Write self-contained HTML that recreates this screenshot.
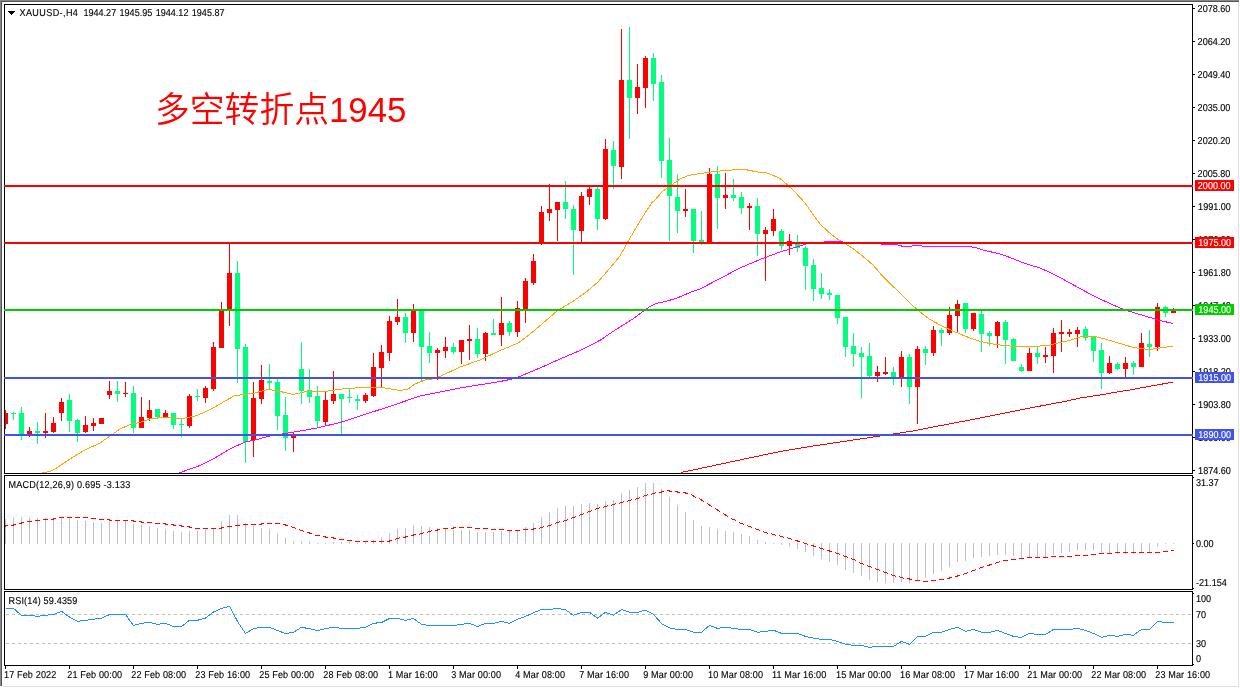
<!DOCTYPE html>
<html lang="zh"><head><meta charset="utf-8"><title>XAUUSD H4</title>
<style>html,body{margin:0;padding:0;background:#fff;overflow:hidden}svg{display:block}text{font-family:"Liberation Sans","Noto Sans CJK SC",sans-serif;font-size:10px;fill:#000;text-rendering:geometricPrecision;stroke:#000;stroke-width:0.12px}.w{fill:#fff;stroke:#fff}.t{font-family:"Liberation Sans","Noto Sans CJK SC",sans-serif;font-size:34.8px;fill:#FF0000;font-weight:350;stroke:none;text-rendering:auto}</style></head><body>
<svg width="1240" height="688" viewBox="0 0 1240 688">
<rect width="1240" height="688" fill="#fff"/>
<g shape-rendering="crispEdges">
<rect x="0" y="0" width="1239" height="1" fill="#888888"/>
<rect x="0" y="1" width="1239" height="1" fill="#545454"/>
<rect x="0" y="0" width="1" height="686" fill="#888888"/>
<rect x="1" y="1" width="1" height="685" fill="#545454"/>
<rect x="2" y="686" width="1237" height="1" fill="#e2e2e2"/>
<rect x="1238" y="2" width="1" height="685" fill="#e2e2e2"/>
<rect x="4" y="4" width="1189" height="1" fill="#000"/>
<rect x="4" y="473" width="1189" height="1" fill="#000"/>
<rect x="4" y="4" width="1" height="470" fill="#000"/>
<rect x="1192" y="4" width="1" height="470" fill="#000"/>
<rect x="4" y="475" width="1189" height="1" fill="#000"/>
<rect x="4" y="589" width="1189" height="1" fill="#000"/>
<rect x="4" y="475" width="1" height="115" fill="#000"/>
<rect x="1192" y="475" width="1" height="115" fill="#000"/>
<rect x="4" y="591" width="1189" height="1" fill="#000"/>
<rect x="4" y="665" width="1189" height="1" fill="#000"/>
<rect x="4" y="591" width="1" height="75" fill="#000"/>
<rect x="1192" y="591" width="1" height="75" fill="#000"/>
</g>
<clipPath id="c1"><rect x="5" y="5" width="1187" height="468"/></clipPath>
<clipPath id="c2"><rect x="5" y="476" width="1187" height="113"/></clipPath>
<clipPath id="c3"><rect x="5" y="592" width="1187" height="73"/></clipPath>
<g clip-path="url(#c1)" shape-rendering="crispEdges">
<rect x="5" y="410" width="1" height="19" fill="#FF0000"/>
<rect x="3" y="413" width="5" height="11" fill="#FF0000"/>
<rect x="13" y="412" width="1" height="8" fill="#00FF7F"/>
<rect x="11" y="413" width="5" height="1" fill="#00FF7F"/>
<rect x="21" y="407" width="1" height="33" fill="#00FF7F"/>
<rect x="19" y="413" width="5" height="21" fill="#00FF7F"/>
<rect x="29" y="427" width="1" height="10" fill="#FF0000"/>
<rect x="27" y="431" width="5" height="3" fill="#FF0000"/>
<rect x="37" y="422" width="1" height="22" fill="#00FF7F"/>
<rect x="35" y="431" width="5" height="2" fill="#00FF7F"/>
<rect x="45" y="413" width="1" height="25" fill="#FF0000"/>
<rect x="43" y="431" width="5" height="2" fill="#FF0000"/>
<rect x="53" y="417" width="1" height="16" fill="#FF0000"/>
<rect x="51" y="423" width="5" height="9" fill="#FF0000"/>
<rect x="61" y="398" width="1" height="23" fill="#FF0000"/>
<rect x="59" y="402" width="5" height="11" fill="#FF0000"/>
<rect x="69" y="394" width="1" height="38" fill="#00FF7F"/>
<rect x="67" y="400" width="5" height="21" fill="#00FF7F"/>
<rect x="77" y="419" width="1" height="23" fill="#00FF7F"/>
<rect x="75" y="420" width="5" height="13" fill="#00FF7F"/>
<rect x="85" y="416" width="1" height="17" fill="#FF0000"/>
<rect x="83" y="425" width="5" height="7" fill="#FF0000"/>
<rect x="93" y="418" width="1" height="13" fill="#FF0000"/>
<rect x="91" y="423" width="5" height="3" fill="#FF0000"/>
<rect x="99" y="418" width="5" height="6" fill="#FF0000"/>
<rect x="109" y="381" width="1" height="18" fill="#FF0000"/>
<rect x="107" y="391" width="5" height="4" fill="#FF0000"/>
<rect x="117" y="381" width="1" height="21" fill="#00FF7F"/>
<rect x="115" y="391" width="5" height="3" fill="#00FF7F"/>
<rect x="125" y="382" width="1" height="15" fill="#FF0000"/>
<rect x="123" y="393" width="5" height="1" fill="#FF0000"/>
<rect x="133" y="386" width="1" height="47" fill="#00FF7F"/>
<rect x="131" y="393" width="5" height="35" fill="#00FF7F"/>
<rect x="141" y="397" width="1" height="31" fill="#FF0000"/>
<rect x="139" y="417" width="5" height="11" fill="#FF0000"/>
<rect x="149" y="400" width="1" height="21" fill="#FF0000"/>
<rect x="147" y="410" width="5" height="8" fill="#FF0000"/>
<rect x="157" y="409" width="1" height="10" fill="#00FF7F"/>
<rect x="155" y="409" width="5" height="8" fill="#00FF7F"/>
<rect x="165" y="410" width="1" height="7" fill="#FF0000"/>
<rect x="163" y="413" width="5" height="4" fill="#FF0000"/>
<rect x="173" y="413" width="1" height="16" fill="#00FF7F"/>
<rect x="171" y="413" width="5" height="12" fill="#00FF7F"/>
<rect x="181" y="419" width="1" height="18" fill="#00FF7F"/>
<rect x="179" y="424" width="5" height="1" fill="#00FF7F"/>
<rect x="189" y="394" width="1" height="34" fill="#FF0000"/>
<rect x="187" y="396" width="5" height="30" fill="#FF0000"/>
<rect x="197" y="389" width="1" height="12" fill="#00FF7F"/>
<rect x="195" y="396" width="5" height="1" fill="#00FF7F"/>
<rect x="205" y="386" width="1" height="17" fill="#FF0000"/>
<rect x="203" y="388" width="5" height="10" fill="#FF0000"/>
<rect x="213" y="342" width="1" height="49" fill="#FF0000"/>
<rect x="211" y="347" width="5" height="42" fill="#FF0000"/>
<rect x="221" y="302" width="1" height="46" fill="#FF0000"/>
<rect x="219" y="311" width="5" height="37" fill="#FF0000"/>
<rect x="229" y="244" width="1" height="82" fill="#FF0000"/>
<rect x="227" y="273" width="5" height="36" fill="#FF0000"/>
<rect x="237" y="261" width="1" height="122" fill="#00FF7F"/>
<rect x="235" y="273" width="5" height="76" fill="#00FF7F"/>
<rect x="245" y="344" width="1" height="119" fill="#00FF7F"/>
<rect x="243" y="347" width="5" height="95" fill="#00FF7F"/>
<rect x="253" y="382" width="1" height="75" fill="#FF0000"/>
<rect x="251" y="398" width="5" height="42" fill="#FF0000"/>
<rect x="261" y="365" width="1" height="39" fill="#FF0000"/>
<rect x="259" y="380" width="5" height="19" fill="#FF0000"/>
<rect x="269" y="364" width="1" height="25" fill="#00FF7F"/>
<rect x="267" y="381" width="5" height="2" fill="#00FF7F"/>
<rect x="277" y="379" width="1" height="51" fill="#00FF7F"/>
<rect x="275" y="382" width="5" height="34" fill="#00FF7F"/>
<rect x="285" y="397" width="1" height="54" fill="#00FF7F"/>
<rect x="283" y="415" width="5" height="23" fill="#00FF7F"/>
<rect x="293" y="433" width="1" height="19" fill="#FF0000"/>
<rect x="291" y="436" width="5" height="2" fill="#FF0000"/>
<rect x="301" y="342" width="1" height="62" fill="#00FF7F"/>
<rect x="299" y="369" width="5" height="22" fill="#00FF7F"/>
<rect x="309" y="369" width="1" height="34" fill="#00FF7F"/>
<rect x="307" y="390" width="5" height="7" fill="#00FF7F"/>
<rect x="317" y="386" width="1" height="42" fill="#00FF7F"/>
<rect x="315" y="396" width="5" height="25" fill="#00FF7F"/>
<rect x="325" y="392" width="1" height="33" fill="#FF0000"/>
<rect x="323" y="400" width="5" height="22" fill="#FF0000"/>
<rect x="333" y="371" width="1" height="33" fill="#FF0000"/>
<rect x="331" y="394" width="5" height="7" fill="#FF0000"/>
<rect x="341" y="394" width="1" height="40" fill="#00FF7F"/>
<rect x="339" y="394" width="5" height="5" fill="#00FF7F"/>
<rect x="349" y="389" width="1" height="14" fill="#00FF7F"/>
<rect x="347" y="397" width="5" height="1" fill="#00FF7F"/>
<rect x="357" y="395" width="1" height="15" fill="#00FF7F"/>
<rect x="355" y="399" width="5" height="2" fill="#00FF7F"/>
<rect x="365" y="393" width="1" height="10" fill="#FF0000"/>
<rect x="363" y="395" width="5" height="6" fill="#FF0000"/>
<rect x="373" y="353" width="1" height="44" fill="#FF0000"/>
<rect x="371" y="367" width="5" height="29" fill="#FF0000"/>
<rect x="381" y="345" width="1" height="42" fill="#FF0000"/>
<rect x="379" y="352" width="5" height="16" fill="#FF0000"/>
<rect x="389" y="316" width="1" height="45" fill="#FF0000"/>
<rect x="387" y="321" width="5" height="32" fill="#FF0000"/>
<rect x="397" y="299" width="1" height="26" fill="#FF0000"/>
<rect x="395" y="317" width="5" height="5" fill="#FF0000"/>
<rect x="405" y="313" width="1" height="30" fill="#00FF7F"/>
<rect x="403" y="317" width="5" height="16" fill="#00FF7F"/>
<rect x="413" y="304" width="1" height="38" fill="#FF0000"/>
<rect x="411" y="311" width="5" height="22" fill="#FF0000"/>
<rect x="421" y="311" width="1" height="71" fill="#00FF7F"/>
<rect x="419" y="311" width="5" height="36" fill="#00FF7F"/>
<rect x="429" y="332" width="1" height="31" fill="#00FF7F"/>
<rect x="427" y="346" width="5" height="7" fill="#00FF7F"/>
<rect x="437" y="348" width="1" height="32" fill="#FF0000"/>
<rect x="435" y="350" width="5" height="3" fill="#FF0000"/>
<rect x="445" y="337" width="1" height="21" fill="#FF0000"/>
<rect x="443" y="347" width="5" height="4" fill="#FF0000"/>
<rect x="453" y="343" width="1" height="11" fill="#00FF7F"/>
<rect x="451" y="347" width="5" height="5" fill="#00FF7F"/>
<rect x="461" y="340" width="1" height="24" fill="#FF0000"/>
<rect x="459" y="340" width="5" height="12" fill="#FF0000"/>
<rect x="469" y="325" width="1" height="35" fill="#FF0000"/>
<rect x="467" y="339" width="5" height="2" fill="#FF0000"/>
<rect x="477" y="328" width="1" height="30" fill="#00FF7F"/>
<rect x="475" y="339" width="5" height="15" fill="#00FF7F"/>
<rect x="485" y="332" width="1" height="29" fill="#FF0000"/>
<rect x="483" y="333" width="5" height="21" fill="#FF0000"/>
<rect x="493" y="319" width="1" height="16" fill="#00FF7F"/>
<rect x="491" y="333" width="5" height="2" fill="#00FF7F"/>
<rect x="501" y="297" width="1" height="49" fill="#FF0000"/>
<rect x="499" y="323" width="5" height="12" fill="#FF0000"/>
<rect x="509" y="321" width="1" height="15" fill="#00FF7F"/>
<rect x="507" y="323" width="5" height="9" fill="#00FF7F"/>
<rect x="517" y="301" width="1" height="36" fill="#FF0000"/>
<rect x="515" y="308" width="5" height="24" fill="#FF0000"/>
<rect x="525" y="278" width="1" height="45" fill="#FF0000"/>
<rect x="523" y="281" width="5" height="29" fill="#FF0000"/>
<rect x="533" y="254" width="1" height="31" fill="#FF0000"/>
<rect x="531" y="261" width="5" height="22" fill="#FF0000"/>
<rect x="541" y="206" width="1" height="39" fill="#FF0000"/>
<rect x="539" y="212" width="5" height="31" fill="#FF0000"/>
<rect x="549" y="184" width="1" height="37" fill="#FF0000"/>
<rect x="547" y="209" width="5" height="4" fill="#FF0000"/>
<rect x="557" y="202" width="1" height="39" fill="#FF0000"/>
<rect x="555" y="202" width="5" height="8" fill="#FF0000"/>
<rect x="565" y="181" width="1" height="38" fill="#00FF7F"/>
<rect x="563" y="202" width="5" height="7" fill="#00FF7F"/>
<rect x="573" y="205" width="1" height="70" fill="#00FF7F"/>
<rect x="571" y="209" width="5" height="21" fill="#00FF7F"/>
<rect x="581" y="192" width="1" height="50" fill="#FF0000"/>
<rect x="579" y="196" width="5" height="35" fill="#FF0000"/>
<rect x="589" y="187" width="1" height="18" fill="#FF0000"/>
<rect x="587" y="189" width="5" height="8" fill="#FF0000"/>
<rect x="597" y="187" width="1" height="43" fill="#00FF7F"/>
<rect x="595" y="189" width="5" height="30" fill="#00FF7F"/>
<rect x="605" y="139" width="1" height="81" fill="#FF0000"/>
<rect x="603" y="149" width="5" height="70" fill="#FF0000"/>
<rect x="613" y="141" width="1" height="48" fill="#00FF7F"/>
<rect x="611" y="150" width="5" height="16" fill="#00FF7F"/>
<rect x="621" y="29" width="1" height="150" fill="#FF0000"/>
<rect x="619" y="80" width="5" height="87" fill="#FF0000"/>
<rect x="629" y="27" width="1" height="112" fill="#00FF7F"/>
<rect x="627" y="80" width="5" height="18" fill="#00FF7F"/>
<rect x="637" y="64" width="1" height="50" fill="#FF0000"/>
<rect x="635" y="87" width="5" height="11" fill="#FF0000"/>
<rect x="645" y="56" width="1" height="52" fill="#FF0000"/>
<rect x="643" y="58" width="5" height="30" fill="#FF0000"/>
<rect x="653" y="53" width="1" height="48" fill="#00FF7F"/>
<rect x="651" y="58" width="5" height="26" fill="#00FF7F"/>
<rect x="661" y="75" width="1" height="103" fill="#00FF7F"/>
<rect x="659" y="82" width="5" height="79" fill="#00FF7F"/>
<rect x="669" y="138" width="1" height="103" fill="#00FF7F"/>
<rect x="667" y="160" width="5" height="36" fill="#00FF7F"/>
<rect x="677" y="174" width="1" height="59" fill="#00FF7F"/>
<rect x="675" y="197" width="5" height="14" fill="#00FF7F"/>
<rect x="685" y="189" width="1" height="28" fill="#FF0000"/>
<rect x="683" y="209" width="5" height="2" fill="#FF0000"/>
<rect x="693" y="209" width="1" height="44" fill="#00FF7F"/>
<rect x="691" y="209" width="5" height="32" fill="#00FF7F"/>
<rect x="701" y="211" width="1" height="34" fill="#00FF7F"/>
<rect x="699" y="240" width="5" height="2" fill="#00FF7F"/>
<rect x="709" y="168" width="1" height="75" fill="#FF0000"/>
<rect x="707" y="174" width="5" height="69" fill="#FF0000"/>
<rect x="717" y="166" width="1" height="63" fill="#00FF7F"/>
<rect x="715" y="174" width="5" height="24" fill="#00FF7F"/>
<rect x="725" y="173" width="1" height="36" fill="#FF0000"/>
<rect x="723" y="195" width="5" height="3" fill="#FF0000"/>
<rect x="733" y="179" width="1" height="22" fill="#00FF7F"/>
<rect x="731" y="195" width="5" height="3" fill="#00FF7F"/>
<rect x="741" y="192" width="1" height="22" fill="#00FF7F"/>
<rect x="739" y="197" width="5" height="11" fill="#00FF7F"/>
<rect x="749" y="203" width="1" height="27" fill="#FF0000"/>
<rect x="747" y="206" width="5" height="2" fill="#FF0000"/>
<rect x="757" y="198" width="1" height="58" fill="#00FF7F"/>
<rect x="755" y="206" width="5" height="28" fill="#00FF7F"/>
<rect x="765" y="227" width="1" height="54" fill="#FF0000"/>
<rect x="763" y="230" width="5" height="4" fill="#FF0000"/>
<rect x="773" y="209" width="1" height="27" fill="#FF0000"/>
<rect x="771" y="219" width="5" height="12" fill="#FF0000"/>
<rect x="781" y="229" width="1" height="21" fill="#00FF7F"/>
<rect x="779" y="231" width="5" height="15" fill="#00FF7F"/>
<rect x="789" y="234" width="1" height="21" fill="#FF0000"/>
<rect x="787" y="241" width="5" height="5" fill="#FF0000"/>
<rect x="797" y="235" width="1" height="17" fill="#00FF7F"/>
<rect x="795" y="242" width="5" height="6" fill="#00FF7F"/>
<rect x="805" y="246" width="1" height="44" fill="#00FF7F"/>
<rect x="803" y="248" width="5" height="18" fill="#00FF7F"/>
<rect x="813" y="259" width="1" height="42" fill="#00FF7F"/>
<rect x="811" y="265" width="5" height="24" fill="#00FF7F"/>
<rect x="821" y="273" width="1" height="26" fill="#00FF7F"/>
<rect x="819" y="288" width="5" height="6" fill="#00FF7F"/>
<rect x="829" y="289" width="1" height="11" fill="#00FF7F"/>
<rect x="827" y="293" width="5" height="2" fill="#00FF7F"/>
<rect x="837" y="295" width="1" height="29" fill="#00FF7F"/>
<rect x="835" y="295" width="5" height="23" fill="#00FF7F"/>
<rect x="845" y="317" width="1" height="40" fill="#00FF7F"/>
<rect x="843" y="317" width="5" height="30" fill="#00FF7F"/>
<rect x="853" y="333" width="1" height="34" fill="#00FF7F"/>
<rect x="851" y="346" width="5" height="8" fill="#00FF7F"/>
<rect x="861" y="347" width="1" height="51" fill="#00FF7F"/>
<rect x="859" y="353" width="5" height="4" fill="#00FF7F"/>
<rect x="869" y="343" width="1" height="34" fill="#00FF7F"/>
<rect x="867" y="356" width="5" height="20" fill="#00FF7F"/>
<rect x="877" y="366" width="1" height="16" fill="#FF0000"/>
<rect x="875" y="372" width="5" height="4" fill="#FF0000"/>
<rect x="885" y="357" width="1" height="18" fill="#FF0000"/>
<rect x="883" y="372" width="5" height="2" fill="#FF0000"/>
<rect x="893" y="367" width="1" height="18" fill="#00FF7F"/>
<rect x="891" y="372" width="5" height="5" fill="#00FF7F"/>
<rect x="901" y="351" width="1" height="36" fill="#FF0000"/>
<rect x="899" y="357" width="5" height="20" fill="#FF0000"/>
<rect x="909" y="354" width="1" height="50" fill="#00FF7F"/>
<rect x="907" y="357" width="5" height="30" fill="#00FF7F"/>
<rect x="917" y="346" width="1" height="78" fill="#FF0000"/>
<rect x="915" y="349" width="5" height="38" fill="#FF0000"/>
<rect x="925" y="346" width="1" height="19" fill="#00FF7F"/>
<rect x="923" y="349" width="5" height="4" fill="#00FF7F"/>
<rect x="933" y="326" width="1" height="30" fill="#FF0000"/>
<rect x="931" y="330" width="5" height="23" fill="#FF0000"/>
<rect x="941" y="328" width="1" height="18" fill="#00FF7F"/>
<rect x="939" y="330" width="5" height="3" fill="#00FF7F"/>
<rect x="949" y="307" width="1" height="28" fill="#FF0000"/>
<rect x="947" y="315" width="5" height="18" fill="#FF0000"/>
<rect x="957" y="300" width="1" height="32" fill="#FF0000"/>
<rect x="955" y="304" width="5" height="12" fill="#FF0000"/>
<rect x="965" y="303" width="1" height="30" fill="#00FF7F"/>
<rect x="963" y="303" width="5" height="26" fill="#00FF7F"/>
<rect x="973" y="313" width="1" height="18" fill="#FF0000"/>
<rect x="971" y="313" width="5" height="16" fill="#FF0000"/>
<rect x="981" y="311" width="1" height="41" fill="#00FF7F"/>
<rect x="979" y="314" width="5" height="20" fill="#00FF7F"/>
<rect x="989" y="331" width="1" height="15" fill="#00FF7F"/>
<rect x="987" y="333" width="5" height="3" fill="#00FF7F"/>
<rect x="997" y="321" width="1" height="27" fill="#FF0000"/>
<rect x="995" y="322" width="5" height="14" fill="#FF0000"/>
<rect x="1005" y="320" width="1" height="44" fill="#00FF7F"/>
<rect x="1003" y="322" width="5" height="18" fill="#00FF7F"/>
<rect x="1013" y="338" width="1" height="23" fill="#00FF7F"/>
<rect x="1011" y="339" width="5" height="22" fill="#00FF7F"/>
<rect x="1021" y="364" width="1" height="8" fill="#00FF7F"/>
<rect x="1019" y="367" width="5" height="4" fill="#00FF7F"/>
<rect x="1029" y="348" width="1" height="23" fill="#FF0000"/>
<rect x="1027" y="353" width="5" height="18" fill="#FF0000"/>
<rect x="1037" y="347" width="1" height="17" fill="#00FF7F"/>
<rect x="1035" y="353" width="5" height="4" fill="#00FF7F"/>
<rect x="1045" y="347" width="1" height="16" fill="#FF0000"/>
<rect x="1043" y="355" width="5" height="2" fill="#FF0000"/>
<rect x="1053" y="328" width="1" height="45" fill="#FF0000"/>
<rect x="1051" y="333" width="5" height="23" fill="#FF0000"/>
<rect x="1061" y="320" width="1" height="32" fill="#FF0000"/>
<rect x="1059" y="332" width="5" height="2" fill="#FF0000"/>
<rect x="1069" y="329" width="1" height="8" fill="#FF0000"/>
<rect x="1067" y="332" width="5" height="2" fill="#FF0000"/>
<rect x="1077" y="327" width="1" height="20" fill="#FF0000"/>
<rect x="1075" y="330" width="5" height="4" fill="#FF0000"/>
<rect x="1085" y="326" width="1" height="15" fill="#00FF7F"/>
<rect x="1083" y="329" width="5" height="9" fill="#00FF7F"/>
<rect x="1093" y="337" width="1" height="25" fill="#00FF7F"/>
<rect x="1091" y="337" width="5" height="14" fill="#00FF7F"/>
<rect x="1101" y="343" width="1" height="46" fill="#00FF7F"/>
<rect x="1099" y="350" width="5" height="23" fill="#00FF7F"/>
<rect x="1109" y="356" width="1" height="18" fill="#FF0000"/>
<rect x="1107" y="363" width="5" height="10" fill="#FF0000"/>
<rect x="1117" y="362" width="1" height="8" fill="#00FF7F"/>
<rect x="1115" y="364" width="5" height="5" fill="#00FF7F"/>
<rect x="1125" y="357" width="1" height="20" fill="#FF0000"/>
<rect x="1123" y="363" width="5" height="6" fill="#FF0000"/>
<rect x="1133" y="361" width="1" height="14" fill="#00FF7F"/>
<rect x="1131" y="363" width="5" height="4" fill="#00FF7F"/>
<rect x="1141" y="333" width="1" height="34" fill="#FF0000"/>
<rect x="1139" y="343" width="5" height="24" fill="#FF0000"/>
<rect x="1149" y="330" width="1" height="27" fill="#00FF7F"/>
<rect x="1147" y="344" width="5" height="3" fill="#00FF7F"/>
<rect x="1157" y="303" width="1" height="48" fill="#FF0000"/>
<rect x="1155" y="307" width="5" height="40" fill="#FF0000"/>
<rect x="1165" y="306" width="1" height="11" fill="#00FF7F"/>
<rect x="1163" y="307" width="5" height="6" fill="#00FF7F"/>
<rect x="1173" y="308" width="1" height="5" fill="#FF0000"/>
<rect x="1171" y="311" width="5" height="2" fill="#FF0000"/>
</g>
<polyline clip-path="url(#c1)" points="42,473 50,471.5 55,469 70,459 85,450 100,443 110,436 120,429 130,424.5 140,422.5 150,419 160,417.5 170,417.5 178,418.5 183,418.5 190,417 197,415.5 205,412 215,407 225,401 235,395.5 245,394.5 255,393 262,391 268,389.5 275,390.5 285,392.5 293,394.5 300,393 308,391 318,392 325,391.5 335,390 345,388.5 355,388 370,387.5 385,388 400,390.5 408,389 415,384 425,380 432,379 440,376.5 460,367 480,360 500,350.5 510,346.5 518,343 525,338 535,330 546,320.5 557,311 572,302 585,293 598,282 610,268 620,256 628,241.5 640,221 652,202.3 655,200 662,192 670,186 680,179 688,175.6 700,173.5 711,172 725,170.5 740,169.5 745,169.5 755,171.5 760,172.3 765,172.5 770,174 780,178.5 787,184.5 795,192 805,203 812,213 820,224 828,231.5 836,238 845,243.5 855,250 866,259 873,265 882,275.5 890,283.5 900,293 912,305 920,312 930,319.5 940,325 950,329.7 960,334 970,338 980,341.5 990,343.5 1000,345 1010,346 1020,346.5 1030,346.5 1040,346 1050,345 1060,342.5 1070,340.5 1075,338.5 1082,336.5 1095,336.5 1105,339 1115,342 1125,345 1132,347 1140,348.5 1150,349.5 1160,348 1170,346.5 1173,346" fill="none" stroke="#FFA500" stroke-width="1" shape-rendering="crispEdges" />
<polyline clip-path="url(#c1)" points="179,473 200,465.5 215,458 230,449 245,442 253,440.5 270,436 285,433.5 300,431 317,428 340,422.5 360,416 391,406 420,396 460,388 500,381.5 510,379.5 520,376.3 540,368 560,359 580,350.5 600,340.3 616,329.5 632,319.5 645,310 650,306.5 656,303.5 665,301.5 676,298.5 690,292.5 700,289 720,278.5 740,268 760,259.5 780,252 790,249 800,246 808,243.5 824,242.5 825,241.5 842,241.5 843,242.5 870,243.5 881,243.5 882,244.5 897,244.5 899,245.5 904,246.5 911,246.5 913,245.5 921,245.5 923,246.5 969,246.5 975,247.5 985,250.5 1000,254 1010,257.5 1025,263.5 1040,268 1050,272.5 1060,277.5 1070,283 1080,288.5 1090,294 1100,299 1110,303.5 1120,308 1130,311.5 1140,314.5 1150,317.5 1160,320.5 1173,323.5" fill="none" stroke="#FF00FF" stroke-width="1" shape-rendering="crispEdges" />
<polyline clip-path="url(#c1)" points="681,472.5 700,468.5 735,461 780,451.5 810,446.5 850,440.5 880,436 900,433 913,431 940,425.7 970,420 1000,414 1030,408 1067,401 1080,398 1100,395 1120,391.5 1130,390 1140,388 1160,384.5 1173,382" fill="none" stroke="#FF0000" stroke-width="1" shape-rendering="crispEdges" />
<g shape-rendering="crispEdges">
<rect x="4" y="185" width="1189" height="2" fill="#FF0000"/>
<rect x="4" y="242" width="1189" height="2" fill="#FF0000"/>
<rect x="4" y="309" width="1189" height="2" fill="#00CC00"/>
<rect x="4" y="377" width="1189" height="2" fill="#4254E8"/>
<rect x="4" y="434" width="1189" height="2" fill="#4254E8"/>
<rect x="1193" y="8" width="2" height="1" fill="#000"/>
<rect x="1193" y="41" width="2" height="1" fill="#000"/>
<rect x="1193" y="74" width="2" height="1" fill="#000"/>
<rect x="1193" y="107" width="2" height="1" fill="#000"/>
<rect x="1193" y="140" width="2" height="1" fill="#000"/>
<rect x="1193" y="173" width="2" height="1" fill="#000"/>
<rect x="1193" y="206" width="2" height="1" fill="#000"/>
<rect x="1193" y="239" width="2" height="1" fill="#000"/>
<rect x="1193" y="272" width="2" height="1" fill="#000"/>
<rect x="1193" y="305" width="2" height="1" fill="#000"/>
<rect x="1193" y="338" width="2" height="1" fill="#000"/>
<rect x="1193" y="371" width="2" height="1" fill="#000"/>
<rect x="1193" y="404" width="2" height="1" fill="#000"/>
<rect x="1193" y="437" width="2" height="1" fill="#000"/>
<rect x="1193" y="470" width="2" height="1" fill="#000"/>
</g>
<text transform="translate(1197.6 12) scale(0.907 1)">2078.60</text>
<text transform="translate(1197.6 45) scale(0.907 1)">2064.20</text>
<text transform="translate(1197.6 78) scale(0.907 1)">2049.40</text>
<text transform="translate(1197.6 111) scale(0.907 1)">2035.00</text>
<text transform="translate(1197.6 144) scale(0.907 1)">2020.20</text>
<text transform="translate(1197.6 177) scale(0.907 1)">2005.80</text>
<text transform="translate(1198.1 210) scale(0.907 1)">1991.00</text>
<text transform="translate(1198.1 243) scale(0.907 1)">1976.20</text>
<text transform="translate(1198.1 276) scale(0.907 1)">1961.80</text>
<text transform="translate(1198.1 309) scale(0.907 1)">1947.40</text>
<text transform="translate(1198.1 342) scale(0.907 1)">1933.00</text>
<text transform="translate(1198.1 375) scale(0.907 1)">1918.20</text>
<text transform="translate(1198.1 408) scale(0.907 1)">1903.80</text>
<text transform="translate(1198.1 441) scale(0.907 1)">1889.00</text>
<text transform="translate(1198.1 474) scale(0.907 1)">1874.60</text>
<g shape-rendering="crispEdges">
<rect x="1195" y="180" width="39" height="11" fill="#FF0000"/>
<rect x="1195" y="237" width="39" height="11" fill="#FF0000"/>
<rect x="1195" y="304" width="39" height="11" fill="#00CC00"/>
<rect x="1195" y="372" width="39" height="11" fill="#4254E8"/>
<rect x="1195" y="429" width="39" height="11" fill="#4254E8"/>
</g>
<text class="w" transform="translate(1197.8 189) scale(0.907 1)">2000.00</text>
<text class="w" transform="translate(1198.3 246) scale(0.907 1)">1975.00</text>
<text class="w" transform="translate(1198.3 313) scale(0.907 1)">1945.00</text>
<text class="w" transform="translate(1198.3 381) scale(0.907 1)">1915.00</text>
<text class="w" transform="translate(1198.3 438) scale(0.907 1)">1890.00</text>
<path d="M8 11h7l-3.5 4z" fill="#000" shape-rendering="crispEdges"/>
<text letter-spacing="0.42" transform="translate(19.5 16) scale(0.907 1)">XAUUSD-,H4</text>
<text word-spacing="0.9" transform="translate(83.4 16) scale(0.907 1)">1944.27 1945.95 1944.12 1945.87</text>
<text class="t" x="155" y="122">多空转折点1945</text>
<g clip-path="url(#c2)" shape-rendering="crispEdges">
<rect x="5" y="519" width="1" height="25" fill="#C0C0C0"/>
<rect x="13" y="517" width="1" height="27" fill="#C0C0C0"/>
<rect x="21" y="517" width="1" height="27" fill="#C0C0C0"/>
<rect x="29" y="517" width="1" height="27" fill="#C0C0C0"/>
<rect x="37" y="518" width="1" height="26" fill="#C0C0C0"/>
<rect x="45" y="518" width="1" height="26" fill="#C0C0C0"/>
<rect x="53" y="518" width="1" height="26" fill="#C0C0C0"/>
<rect x="61" y="518" width="1" height="26" fill="#C0C0C0"/>
<rect x="69" y="518" width="1" height="26" fill="#C0C0C0"/>
<rect x="77" y="520" width="1" height="24" fill="#C0C0C0"/>
<rect x="85" y="521" width="1" height="23" fill="#C0C0C0"/>
<rect x="93" y="522" width="1" height="22" fill="#C0C0C0"/>
<rect x="101" y="523" width="1" height="21" fill="#C0C0C0"/>
<rect x="109" y="522" width="1" height="22" fill="#C0C0C0"/>
<rect x="117" y="521" width="1" height="23" fill="#C0C0C0"/>
<rect x="125" y="521" width="1" height="23" fill="#C0C0C0"/>
<rect x="133" y="524" width="1" height="20" fill="#C0C0C0"/>
<rect x="141" y="525" width="1" height="19" fill="#C0C0C0"/>
<rect x="149" y="526" width="1" height="18" fill="#C0C0C0"/>
<rect x="157" y="528" width="1" height="16" fill="#C0C0C0"/>
<rect x="165" y="529" width="1" height="15" fill="#C0C0C0"/>
<rect x="173" y="531" width="1" height="13" fill="#C0C0C0"/>
<rect x="181" y="532" width="1" height="12" fill="#C0C0C0"/>
<rect x="189" y="531" width="1" height="13" fill="#C0C0C0"/>
<rect x="197" y="531" width="1" height="13" fill="#C0C0C0"/>
<rect x="205" y="530" width="1" height="14" fill="#C0C0C0"/>
<rect x="213" y="528" width="1" height="16" fill="#C0C0C0"/>
<rect x="221" y="521" width="1" height="23" fill="#C0C0C0"/>
<rect x="229" y="515" width="1" height="29" fill="#C0C0C0"/>
<rect x="237" y="515" width="1" height="29" fill="#C0C0C0"/>
<rect x="245" y="523" width="1" height="21" fill="#C0C0C0"/>
<rect x="253" y="526" width="1" height="18" fill="#C0C0C0"/>
<rect x="261" y="528" width="1" height="16" fill="#C0C0C0"/>
<rect x="269" y="529" width="1" height="15" fill="#C0C0C0"/>
<rect x="277" y="533" width="1" height="11" fill="#C0C0C0"/>
<rect x="285" y="538" width="1" height="6" fill="#C0C0C0"/>
<rect x="293" y="541" width="1" height="3" fill="#C0C0C0"/>
<rect x="301" y="541" width="1" height="3" fill="#C0C0C0"/>
<rect x="309" y="541" width="1" height="3" fill="#C0C0C0"/>
<rect x="317" y="543" width="1" height="1" fill="#C0C0C0"/>
<rect x="325" y="543" width="1" height="1" fill="#C0C0C0"/>
<rect x="333" y="542" width="1" height="2" fill="#C0C0C0"/>
<rect x="341" y="542" width="1" height="2" fill="#C0C0C0"/>
<rect x="349" y="542" width="1" height="2" fill="#C0C0C0"/>
<rect x="357" y="543" width="1" height="1" fill="#C0C0C0"/>
<rect x="365" y="542" width="1" height="2" fill="#C0C0C0"/>
<rect x="373" y="540" width="1" height="4" fill="#C0C0C0"/>
<rect x="381" y="537" width="1" height="7" fill="#C0C0C0"/>
<rect x="389" y="533" width="1" height="11" fill="#C0C0C0"/>
<rect x="397" y="529" width="1" height="15" fill="#C0C0C0"/>
<rect x="405" y="528" width="1" height="16" fill="#C0C0C0"/>
<rect x="413" y="525" width="1" height="19" fill="#C0C0C0"/>
<rect x="421" y="526" width="1" height="18" fill="#C0C0C0"/>
<rect x="429" y="527" width="1" height="17" fill="#C0C0C0"/>
<rect x="437" y="528" width="1" height="16" fill="#C0C0C0"/>
<rect x="445" y="529" width="1" height="15" fill="#C0C0C0"/>
<rect x="453" y="530" width="1" height="14" fill="#C0C0C0"/>
<rect x="461" y="530" width="1" height="14" fill="#C0C0C0"/>
<rect x="469" y="530" width="1" height="14" fill="#C0C0C0"/>
<rect x="477" y="532" width="1" height="12" fill="#C0C0C0"/>
<rect x="485" y="532" width="1" height="12" fill="#C0C0C0"/>
<rect x="493" y="532" width="1" height="12" fill="#C0C0C0"/>
<rect x="501" y="531" width="1" height="13" fill="#C0C0C0"/>
<rect x="509" y="530" width="1" height="14" fill="#C0C0C0"/>
<rect x="517" y="530" width="1" height="14" fill="#C0C0C0"/>
<rect x="525" y="527" width="1" height="17" fill="#C0C0C0"/>
<rect x="533" y="523" width="1" height="21" fill="#C0C0C0"/>
<rect x="541" y="517" width="1" height="27" fill="#C0C0C0"/>
<rect x="549" y="512" width="1" height="32" fill="#C0C0C0"/>
<rect x="557" y="508" width="1" height="36" fill="#C0C0C0"/>
<rect x="565" y="506" width="1" height="38" fill="#C0C0C0"/>
<rect x="573" y="506" width="1" height="38" fill="#C0C0C0"/>
<rect x="581" y="504" width="1" height="40" fill="#C0C0C0"/>
<rect x="589" y="503" width="1" height="41" fill="#C0C0C0"/>
<rect x="597" y="504" width="1" height="40" fill="#C0C0C0"/>
<rect x="605" y="501" width="1" height="43" fill="#C0C0C0"/>
<rect x="613" y="500" width="1" height="44" fill="#C0C0C0"/>
<rect x="621" y="493" width="1" height="51" fill="#C0C0C0"/>
<rect x="629" y="490" width="1" height="54" fill="#C0C0C0"/>
<rect x="637" y="487" width="1" height="57" fill="#C0C0C0"/>
<rect x="645" y="483" width="1" height="61" fill="#C0C0C0"/>
<rect x="653" y="483" width="1" height="61" fill="#C0C0C0"/>
<rect x="661" y="489" width="1" height="55" fill="#C0C0C0"/>
<rect x="669" y="497" width="1" height="47" fill="#C0C0C0"/>
<rect x="677" y="505" width="1" height="39" fill="#C0C0C0"/>
<rect x="685" y="512" width="1" height="32" fill="#C0C0C0"/>
<rect x="693" y="520" width="1" height="24" fill="#C0C0C0"/>
<rect x="701" y="526" width="1" height="18" fill="#C0C0C0"/>
<rect x="709" y="527" width="1" height="17" fill="#C0C0C0"/>
<rect x="717" y="529" width="1" height="15" fill="#C0C0C0"/>
<rect x="725" y="531" width="1" height="13" fill="#C0C0C0"/>
<rect x="733" y="532" width="1" height="12" fill="#C0C0C0"/>
<rect x="741" y="534" width="1" height="10" fill="#C0C0C0"/>
<rect x="749" y="536" width="1" height="8" fill="#C0C0C0"/>
<rect x="757" y="540" width="1" height="4" fill="#C0C0C0"/>
<rect x="765" y="542" width="1" height="2" fill="#C0C0C0"/>
<rect x="773" y="543" width="1" height="1" fill="#C0C0C0"/>
<rect x="781" y="543" width="1" height="2" fill="#C0C0C0"/>
<rect x="789" y="543" width="1" height="4" fill="#C0C0C0"/>
<rect x="797" y="543" width="1" height="6" fill="#C0C0C0"/>
<rect x="805" y="543" width="1" height="9" fill="#C0C0C0"/>
<rect x="813" y="543" width="1" height="13" fill="#C0C0C0"/>
<rect x="821" y="543" width="1" height="16" fill="#C0C0C0"/>
<rect x="829" y="543" width="1" height="19" fill="#C0C0C0"/>
<rect x="837" y="543" width="1" height="22" fill="#C0C0C0"/>
<rect x="845" y="543" width="1" height="27" fill="#C0C0C0"/>
<rect x="853" y="543" width="1" height="30" fill="#C0C0C0"/>
<rect x="861" y="543" width="1" height="33" fill="#C0C0C0"/>
<rect x="869" y="543" width="1" height="37" fill="#C0C0C0"/>
<rect x="877" y="543" width="1" height="39" fill="#C0C0C0"/>
<rect x="885" y="543" width="1" height="40" fill="#C0C0C0"/>
<rect x="893" y="543" width="1" height="40" fill="#C0C0C0"/>
<rect x="901" y="543" width="1" height="39" fill="#C0C0C0"/>
<rect x="909" y="543" width="1" height="40" fill="#C0C0C0"/>
<rect x="917" y="543" width="1" height="38" fill="#C0C0C0"/>
<rect x="925" y="543" width="1" height="35" fill="#C0C0C0"/>
<rect x="933" y="543" width="1" height="31" fill="#C0C0C0"/>
<rect x="941" y="543" width="1" height="28" fill="#C0C0C0"/>
<rect x="949" y="543" width="1" height="24" fill="#C0C0C0"/>
<rect x="957" y="543" width="1" height="19" fill="#C0C0C0"/>
<rect x="965" y="543" width="1" height="18" fill="#C0C0C0"/>
<rect x="973" y="543" width="1" height="15" fill="#C0C0C0"/>
<rect x="981" y="543" width="1" height="14" fill="#C0C0C0"/>
<rect x="989" y="543" width="1" height="13" fill="#C0C0C0"/>
<rect x="997" y="543" width="1" height="12" fill="#C0C0C0"/>
<rect x="1005" y="543" width="1" height="12" fill="#C0C0C0"/>
<rect x="1013" y="543" width="1" height="13" fill="#C0C0C0"/>
<rect x="1021" y="543" width="1" height="15" fill="#C0C0C0"/>
<rect x="1029" y="543" width="1" height="15" fill="#C0C0C0"/>
<rect x="1037" y="543" width="1" height="15" fill="#C0C0C0"/>
<rect x="1045" y="543" width="1" height="15" fill="#C0C0C0"/>
<rect x="1053" y="543" width="1" height="12" fill="#C0C0C0"/>
<rect x="1061" y="543" width="1" height="10" fill="#C0C0C0"/>
<rect x="1069" y="543" width="1" height="9" fill="#C0C0C0"/>
<rect x="1077" y="543" width="1" height="7" fill="#C0C0C0"/>
<rect x="1085" y="543" width="1" height="7" fill="#C0C0C0"/>
<rect x="1093" y="543" width="1" height="7" fill="#C0C0C0"/>
<rect x="1101" y="543" width="1" height="9" fill="#C0C0C0"/>
<rect x="1109" y="543" width="1" height="10" fill="#C0C0C0"/>
<rect x="1117" y="543" width="1" height="11" fill="#C0C0C0"/>
<rect x="1125" y="543" width="1" height="11" fill="#C0C0C0"/>
<rect x="1133" y="543" width="1" height="11" fill="#C0C0C0"/>
<rect x="1141" y="543" width="1" height="10" fill="#C0C0C0"/>
<rect x="1149" y="543" width="1" height="9" fill="#C0C0C0"/>
<rect x="1157" y="543" width="1" height="4" fill="#C0C0C0"/>
<rect x="1165" y="543" width="1" height="1" fill="#C0C0C0"/>
<rect x="1173" y="543" width="1" height="1" fill="#C0C0C0"/>
</g>
<path clip-path="url(#c2)" d="M3.0 526.5L8.0 525.5M11.0 525.5L16.0 524.5M19.0 523.5L24.0 522.5M27.0 521.5L32.0 521.5M35.0 520.5L40.0 520.5M43.0 519.5L48.0 519.5M51.0 519.5L56.0 518.5M59.0 517.5L64.0 517.5M67.0 517.5L72.0 517.5M75.0 517.5L80.0 517.5M83.0 517.5L88.0 517.5M91.0 518.5L96.0 518.5M99.0 519.5L104.0 519.5M107.0 519.5L112.0 520.5M115.0 520.5L120.0 520.5M123.0 520.5L128.0 520.5M131.0 520.5L136.0 521.5M139.0 521.5L144.0 522.5M147.0 522.5L152.0 522.5M155.0 523.5L160.0 523.5M163.0 523.5L168.0 524.5M171.0 524.5L176.0 525.5M179.0 525.5L184.0 526.5M187.0 526.5L192.0 527.5M195.0 528.5L200.0 528.5M203.0 528.5L208.0 528.5M211.0 528.5L216.0 528.5M219.0 528.5L224.0 527.5M227.0 526.5L232.0 526.5M235.0 525.5L240.0 525.5M243.0 524.5L248.0 524.5M251.0 524.5L256.0 524.5M259.0 524.5L264.0 523.5M267.0 523.5L272.0 523.5M275.0 523.5L280.0 523.5M283.0 524.5L288.0 525.5M291.0 526.5L296.0 528.5M299.0 529.5L304.0 531.5M307.0 532.5L312.0 533.5M315.0 535.5L320.0 535.5M323.0 536.5L328.0 537.5M331.0 537.5L336.0 538.5M339.0 539.5L344.0 539.5M347.0 540.5L352.0 540.5M355.0 541.5L360.0 541.5M363.0 541.5L368.0 541.5M371.0 541.5L376.0 541.5M379.0 541.5L384.0 541.5M387.0 541.5L392.0 540.5M395.0 539.5L400.0 537.5M403.0 537.5L408.0 536.5M411.0 535.5L416.0 534.5M419.0 534.5L424.0 532.5M427.0 532.5L432.0 530.5M435.0 530.5L440.0 529.5M443.0 528.5L448.0 528.5M451.0 528.5L456.0 527.5M459.0 527.5L464.0 527.5M467.0 527.5L472.0 527.5M475.0 528.5L480.0 528.5M483.0 528.5L488.0 528.5M491.0 529.5L496.0 529.5M499.0 529.5L504.0 529.5M507.0 530.5L512.0 530.5M515.0 530.5L520.0 530.5M523.0 529.5L528.0 529.5M531.0 529.5L536.0 528.5M539.0 528.5L544.0 526.5M547.0 526.5L552.0 524.5M555.0 523.5L560.0 521.5M563.0 521.5L568.0 519.5M571.0 518.5L576.0 516.5M579.0 515.5L584.0 513.5M587.0 512.5L592.0 510.5M595.0 509.5L600.0 507.5M603.0 507.5L608.0 505.5M611.0 505.5L616.0 503.5M619.0 503.5L624.0 501.5M627.0 501.5L632.0 499.5M635.0 499.5L640.0 497.5M643.0 496.5L648.0 494.5M651.0 494.5L656.0 492.5M659.0 492.5L664.0 491.5M667.0 490.5L672.0 491.5M675.0 491.5L680.0 492.5M683.0 492.5L688.0 493.5M691.0 494.5L696.0 497.5M699.0 498.5L704.0 501.5M707.0 503.5L712.0 506.5M715.0 508.5L720.0 511.5M723.0 513.5L728.0 516.5M731.0 518.5L736.0 520.5M739.0 522.5L744.0 524.5M747.0 525.5L752.0 527.5M755.0 528.5L760.0 530.5M763.0 531.5L768.0 533.5M771.0 533.5L776.0 535.5M779.0 535.5L784.0 537.5M787.0 537.5L792.0 539.5M795.0 540.5L800.0 541.5M803.0 542.5L808.0 544.5M811.0 545.5L816.0 546.5M819.0 547.5L824.0 549.5M827.0 550.5L832.0 551.5M835.0 552.5L840.0 554.5M843.0 555.5L848.0 557.5M851.0 558.5L856.0 560.5M859.0 562.5L864.0 564.5M867.0 565.5L872.0 567.5M875.0 568.5L880.0 570.5M883.0 571.5L888.0 573.5M891.0 574.5L896.0 576.5M899.0 576.5L904.0 578.5M907.0 578.5L912.0 579.5M915.0 580.5L920.0 580.5M923.0 581.5L928.0 581.5M931.0 580.5L936.0 580.5M939.0 579.5L944.0 579.5M947.0 578.5L952.0 577.5M955.0 576.5L960.0 575.5M963.0 574.5L968.0 572.5M971.0 571.5L976.0 569.5M979.0 568.5L984.0 566.5M987.0 565.5L992.0 564.5M995.0 563.5L1000.0 561.5M1003.0 560.5L1008.0 560.5M1011.0 559.5L1016.0 559.5M1019.0 558.5L1024.0 558.5M1027.0 557.5L1032.0 557.5M1035.0 557.5L1040.0 557.5M1043.0 557.5L1048.0 557.5M1051.0 556.5L1056.0 556.5M1059.0 556.5L1064.0 556.5M1067.0 556.5L1072.0 556.5M1075.0 555.5L1080.0 555.5M1083.0 555.5L1088.0 555.5M1091.0 554.5L1096.0 554.5M1099.0 553.5L1104.0 553.5M1107.0 553.5L1112.0 553.5M1115.0 552.5L1120.0 552.5M1123.0 552.5L1128.0 552.5M1131.0 552.5L1136.0 552.5M1139.0 552.5L1144.0 552.5M1147.0 552.5L1152.0 552.5M1155.0 552.5L1160.0 552.5M1163.0 551.5L1168.0 551.5M1171.0 550.5L1173.5 550.5" stroke="#FF0000" stroke-width="1" fill="none" shape-rendering="crispEdges"/>
<text letter-spacing="0.24" transform="translate(8.5 488.3) scale(0.907 1)">MACD(12,26,9) 0.695 -3.133</text>
<g shape-rendering="crispEdges"><rect x="1193" y="477" width="1" height="1" fill="#000"/><rect x="1193" y="543" width="1" height="1" fill="#000"/><rect x="1193" y="588" width="1" height="1" fill="#000"/><rect x="1193" y="593" width="1" height="1" fill="#000"/><rect x="1193" y="664" width="1" height="1" fill="#000"/></g>
<text transform="translate(1196 486) scale(0.907 1)">31.37</text><text transform="translate(1196 547) scale(0.907 1)">0.00</text><text transform="translate(1196 586) scale(0.907 1)">-21.154</text>
<g shape-rendering="crispEdges">
<rect x="6" y="614" width="3" height="1" fill="#C0C0C0"/>
<rect x="12" y="614" width="3" height="1" fill="#C0C0C0"/>
<rect x="18" y="614" width="3" height="1" fill="#C0C0C0"/>
<rect x="24" y="614" width="3" height="1" fill="#C0C0C0"/>
<rect x="30" y="614" width="3" height="1" fill="#C0C0C0"/>
<rect x="36" y="614" width="3" height="1" fill="#C0C0C0"/>
<rect x="42" y="614" width="3" height="1" fill="#C0C0C0"/>
<rect x="48" y="614" width="3" height="1" fill="#C0C0C0"/>
<rect x="54" y="614" width="3" height="1" fill="#C0C0C0"/>
<rect x="60" y="614" width="3" height="1" fill="#C0C0C0"/>
<rect x="66" y="614" width="3" height="1" fill="#C0C0C0"/>
<rect x="72" y="614" width="3" height="1" fill="#C0C0C0"/>
<rect x="78" y="614" width="3" height="1" fill="#C0C0C0"/>
<rect x="84" y="614" width="3" height="1" fill="#C0C0C0"/>
<rect x="90" y="614" width="3" height="1" fill="#C0C0C0"/>
<rect x="96" y="614" width="3" height="1" fill="#C0C0C0"/>
<rect x="102" y="614" width="3" height="1" fill="#C0C0C0"/>
<rect x="108" y="614" width="3" height="1" fill="#C0C0C0"/>
<rect x="114" y="614" width="3" height="1" fill="#C0C0C0"/>
<rect x="120" y="614" width="3" height="1" fill="#C0C0C0"/>
<rect x="126" y="614" width="3" height="1" fill="#C0C0C0"/>
<rect x="132" y="614" width="3" height="1" fill="#C0C0C0"/>
<rect x="138" y="614" width="3" height="1" fill="#C0C0C0"/>
<rect x="144" y="614" width="3" height="1" fill="#C0C0C0"/>
<rect x="150" y="614" width="3" height="1" fill="#C0C0C0"/>
<rect x="156" y="614" width="3" height="1" fill="#C0C0C0"/>
<rect x="162" y="614" width="3" height="1" fill="#C0C0C0"/>
<rect x="168" y="614" width="3" height="1" fill="#C0C0C0"/>
<rect x="174" y="614" width="3" height="1" fill="#C0C0C0"/>
<rect x="180" y="614" width="3" height="1" fill="#C0C0C0"/>
<rect x="186" y="614" width="3" height="1" fill="#C0C0C0"/>
<rect x="192" y="614" width="3" height="1" fill="#C0C0C0"/>
<rect x="198" y="614" width="3" height="1" fill="#C0C0C0"/>
<rect x="204" y="614" width="3" height="1" fill="#C0C0C0"/>
<rect x="210" y="614" width="3" height="1" fill="#C0C0C0"/>
<rect x="216" y="614" width="3" height="1" fill="#C0C0C0"/>
<rect x="222" y="614" width="3" height="1" fill="#C0C0C0"/>
<rect x="228" y="614" width="3" height="1" fill="#C0C0C0"/>
<rect x="234" y="614" width="3" height="1" fill="#C0C0C0"/>
<rect x="240" y="614" width="3" height="1" fill="#C0C0C0"/>
<rect x="246" y="614" width="3" height="1" fill="#C0C0C0"/>
<rect x="252" y="614" width="3" height="1" fill="#C0C0C0"/>
<rect x="258" y="614" width="3" height="1" fill="#C0C0C0"/>
<rect x="264" y="614" width="3" height="1" fill="#C0C0C0"/>
<rect x="270" y="614" width="3" height="1" fill="#C0C0C0"/>
<rect x="276" y="614" width="3" height="1" fill="#C0C0C0"/>
<rect x="282" y="614" width="3" height="1" fill="#C0C0C0"/>
<rect x="288" y="614" width="3" height="1" fill="#C0C0C0"/>
<rect x="294" y="614" width="3" height="1" fill="#C0C0C0"/>
<rect x="300" y="614" width="3" height="1" fill="#C0C0C0"/>
<rect x="306" y="614" width="3" height="1" fill="#C0C0C0"/>
<rect x="312" y="614" width="3" height="1" fill="#C0C0C0"/>
<rect x="318" y="614" width="3" height="1" fill="#C0C0C0"/>
<rect x="324" y="614" width="3" height="1" fill="#C0C0C0"/>
<rect x="330" y="614" width="3" height="1" fill="#C0C0C0"/>
<rect x="336" y="614" width="3" height="1" fill="#C0C0C0"/>
<rect x="342" y="614" width="3" height="1" fill="#C0C0C0"/>
<rect x="348" y="614" width="3" height="1" fill="#C0C0C0"/>
<rect x="354" y="614" width="3" height="1" fill="#C0C0C0"/>
<rect x="360" y="614" width="3" height="1" fill="#C0C0C0"/>
<rect x="366" y="614" width="3" height="1" fill="#C0C0C0"/>
<rect x="372" y="614" width="3" height="1" fill="#C0C0C0"/>
<rect x="378" y="614" width="3" height="1" fill="#C0C0C0"/>
<rect x="384" y="614" width="3" height="1" fill="#C0C0C0"/>
<rect x="390" y="614" width="3" height="1" fill="#C0C0C0"/>
<rect x="396" y="614" width="3" height="1" fill="#C0C0C0"/>
<rect x="402" y="614" width="3" height="1" fill="#C0C0C0"/>
<rect x="408" y="614" width="3" height="1" fill="#C0C0C0"/>
<rect x="414" y="614" width="3" height="1" fill="#C0C0C0"/>
<rect x="420" y="614" width="3" height="1" fill="#C0C0C0"/>
<rect x="426" y="614" width="3" height="1" fill="#C0C0C0"/>
<rect x="432" y="614" width="3" height="1" fill="#C0C0C0"/>
<rect x="438" y="614" width="3" height="1" fill="#C0C0C0"/>
<rect x="444" y="614" width="3" height="1" fill="#C0C0C0"/>
<rect x="450" y="614" width="3" height="1" fill="#C0C0C0"/>
<rect x="456" y="614" width="3" height="1" fill="#C0C0C0"/>
<rect x="462" y="614" width="3" height="1" fill="#C0C0C0"/>
<rect x="468" y="614" width="3" height="1" fill="#C0C0C0"/>
<rect x="474" y="614" width="3" height="1" fill="#C0C0C0"/>
<rect x="480" y="614" width="3" height="1" fill="#C0C0C0"/>
<rect x="486" y="614" width="3" height="1" fill="#C0C0C0"/>
<rect x="492" y="614" width="3" height="1" fill="#C0C0C0"/>
<rect x="498" y="614" width="3" height="1" fill="#C0C0C0"/>
<rect x="504" y="614" width="3" height="1" fill="#C0C0C0"/>
<rect x="510" y="614" width="3" height="1" fill="#C0C0C0"/>
<rect x="516" y="614" width="3" height="1" fill="#C0C0C0"/>
<rect x="522" y="614" width="3" height="1" fill="#C0C0C0"/>
<rect x="528" y="614" width="3" height="1" fill="#C0C0C0"/>
<rect x="534" y="614" width="3" height="1" fill="#C0C0C0"/>
<rect x="540" y="614" width="3" height="1" fill="#C0C0C0"/>
<rect x="546" y="614" width="3" height="1" fill="#C0C0C0"/>
<rect x="552" y="614" width="3" height="1" fill="#C0C0C0"/>
<rect x="558" y="614" width="3" height="1" fill="#C0C0C0"/>
<rect x="564" y="614" width="3" height="1" fill="#C0C0C0"/>
<rect x="570" y="614" width="3" height="1" fill="#C0C0C0"/>
<rect x="576" y="614" width="3" height="1" fill="#C0C0C0"/>
<rect x="582" y="614" width="3" height="1" fill="#C0C0C0"/>
<rect x="588" y="614" width="3" height="1" fill="#C0C0C0"/>
<rect x="594" y="614" width="3" height="1" fill="#C0C0C0"/>
<rect x="600" y="614" width="3" height="1" fill="#C0C0C0"/>
<rect x="606" y="614" width="3" height="1" fill="#C0C0C0"/>
<rect x="612" y="614" width="3" height="1" fill="#C0C0C0"/>
<rect x="618" y="614" width="3" height="1" fill="#C0C0C0"/>
<rect x="624" y="614" width="3" height="1" fill="#C0C0C0"/>
<rect x="630" y="614" width="3" height="1" fill="#C0C0C0"/>
<rect x="636" y="614" width="3" height="1" fill="#C0C0C0"/>
<rect x="642" y="614" width="3" height="1" fill="#C0C0C0"/>
<rect x="648" y="614" width="3" height="1" fill="#C0C0C0"/>
<rect x="654" y="614" width="3" height="1" fill="#C0C0C0"/>
<rect x="660" y="614" width="3" height="1" fill="#C0C0C0"/>
<rect x="666" y="614" width="3" height="1" fill="#C0C0C0"/>
<rect x="672" y="614" width="3" height="1" fill="#C0C0C0"/>
<rect x="678" y="614" width="3" height="1" fill="#C0C0C0"/>
<rect x="684" y="614" width="3" height="1" fill="#C0C0C0"/>
<rect x="690" y="614" width="3" height="1" fill="#C0C0C0"/>
<rect x="696" y="614" width="3" height="1" fill="#C0C0C0"/>
<rect x="702" y="614" width="3" height="1" fill="#C0C0C0"/>
<rect x="708" y="614" width="3" height="1" fill="#C0C0C0"/>
<rect x="714" y="614" width="3" height="1" fill="#C0C0C0"/>
<rect x="720" y="614" width="3" height="1" fill="#C0C0C0"/>
<rect x="726" y="614" width="3" height="1" fill="#C0C0C0"/>
<rect x="732" y="614" width="3" height="1" fill="#C0C0C0"/>
<rect x="738" y="614" width="3" height="1" fill="#C0C0C0"/>
<rect x="744" y="614" width="3" height="1" fill="#C0C0C0"/>
<rect x="750" y="614" width="3" height="1" fill="#C0C0C0"/>
<rect x="756" y="614" width="3" height="1" fill="#C0C0C0"/>
<rect x="762" y="614" width="3" height="1" fill="#C0C0C0"/>
<rect x="768" y="614" width="3" height="1" fill="#C0C0C0"/>
<rect x="774" y="614" width="3" height="1" fill="#C0C0C0"/>
<rect x="780" y="614" width="3" height="1" fill="#C0C0C0"/>
<rect x="786" y="614" width="3" height="1" fill="#C0C0C0"/>
<rect x="792" y="614" width="3" height="1" fill="#C0C0C0"/>
<rect x="798" y="614" width="3" height="1" fill="#C0C0C0"/>
<rect x="804" y="614" width="3" height="1" fill="#C0C0C0"/>
<rect x="810" y="614" width="3" height="1" fill="#C0C0C0"/>
<rect x="816" y="614" width="3" height="1" fill="#C0C0C0"/>
<rect x="822" y="614" width="3" height="1" fill="#C0C0C0"/>
<rect x="828" y="614" width="3" height="1" fill="#C0C0C0"/>
<rect x="834" y="614" width="3" height="1" fill="#C0C0C0"/>
<rect x="840" y="614" width="3" height="1" fill="#C0C0C0"/>
<rect x="846" y="614" width="3" height="1" fill="#C0C0C0"/>
<rect x="852" y="614" width="3" height="1" fill="#C0C0C0"/>
<rect x="858" y="614" width="3" height="1" fill="#C0C0C0"/>
<rect x="864" y="614" width="3" height="1" fill="#C0C0C0"/>
<rect x="870" y="614" width="3" height="1" fill="#C0C0C0"/>
<rect x="876" y="614" width="3" height="1" fill="#C0C0C0"/>
<rect x="882" y="614" width="3" height="1" fill="#C0C0C0"/>
<rect x="888" y="614" width="3" height="1" fill="#C0C0C0"/>
<rect x="894" y="614" width="3" height="1" fill="#C0C0C0"/>
<rect x="900" y="614" width="3" height="1" fill="#C0C0C0"/>
<rect x="906" y="614" width="3" height="1" fill="#C0C0C0"/>
<rect x="912" y="614" width="3" height="1" fill="#C0C0C0"/>
<rect x="918" y="614" width="3" height="1" fill="#C0C0C0"/>
<rect x="924" y="614" width="3" height="1" fill="#C0C0C0"/>
<rect x="930" y="614" width="3" height="1" fill="#C0C0C0"/>
<rect x="936" y="614" width="3" height="1" fill="#C0C0C0"/>
<rect x="942" y="614" width="3" height="1" fill="#C0C0C0"/>
<rect x="948" y="614" width="3" height="1" fill="#C0C0C0"/>
<rect x="954" y="614" width="3" height="1" fill="#C0C0C0"/>
<rect x="960" y="614" width="3" height="1" fill="#C0C0C0"/>
<rect x="966" y="614" width="3" height="1" fill="#C0C0C0"/>
<rect x="972" y="614" width="3" height="1" fill="#C0C0C0"/>
<rect x="978" y="614" width="3" height="1" fill="#C0C0C0"/>
<rect x="984" y="614" width="3" height="1" fill="#C0C0C0"/>
<rect x="990" y="614" width="3" height="1" fill="#C0C0C0"/>
<rect x="996" y="614" width="3" height="1" fill="#C0C0C0"/>
<rect x="1002" y="614" width="3" height="1" fill="#C0C0C0"/>
<rect x="1008" y="614" width="3" height="1" fill="#C0C0C0"/>
<rect x="1014" y="614" width="3" height="1" fill="#C0C0C0"/>
<rect x="1020" y="614" width="3" height="1" fill="#C0C0C0"/>
<rect x="1026" y="614" width="3" height="1" fill="#C0C0C0"/>
<rect x="1032" y="614" width="3" height="1" fill="#C0C0C0"/>
<rect x="1038" y="614" width="3" height="1" fill="#C0C0C0"/>
<rect x="1044" y="614" width="3" height="1" fill="#C0C0C0"/>
<rect x="1050" y="614" width="3" height="1" fill="#C0C0C0"/>
<rect x="1056" y="614" width="3" height="1" fill="#C0C0C0"/>
<rect x="1062" y="614" width="3" height="1" fill="#C0C0C0"/>
<rect x="1068" y="614" width="3" height="1" fill="#C0C0C0"/>
<rect x="1074" y="614" width="3" height="1" fill="#C0C0C0"/>
<rect x="1080" y="614" width="3" height="1" fill="#C0C0C0"/>
<rect x="1086" y="614" width="3" height="1" fill="#C0C0C0"/>
<rect x="1092" y="614" width="3" height="1" fill="#C0C0C0"/>
<rect x="1098" y="614" width="3" height="1" fill="#C0C0C0"/>
<rect x="1104" y="614" width="3" height="1" fill="#C0C0C0"/>
<rect x="1110" y="614" width="3" height="1" fill="#C0C0C0"/>
<rect x="1116" y="614" width="3" height="1" fill="#C0C0C0"/>
<rect x="1122" y="614" width="3" height="1" fill="#C0C0C0"/>
<rect x="1128" y="614" width="3" height="1" fill="#C0C0C0"/>
<rect x="1134" y="614" width="3" height="1" fill="#C0C0C0"/>
<rect x="1140" y="614" width="3" height="1" fill="#C0C0C0"/>
<rect x="1146" y="614" width="3" height="1" fill="#C0C0C0"/>
<rect x="1152" y="614" width="3" height="1" fill="#C0C0C0"/>
<rect x="1158" y="614" width="3" height="1" fill="#C0C0C0"/>
<rect x="1164" y="614" width="3" height="1" fill="#C0C0C0"/>
<rect x="1170" y="614" width="3" height="1" fill="#C0C0C0"/>
<rect x="1176" y="614" width="3" height="1" fill="#C0C0C0"/>
<rect x="1182" y="614" width="3" height="1" fill="#C0C0C0"/>
<rect x="1188" y="614" width="3" height="1" fill="#C0C0C0"/>
<rect x="6" y="643" width="3" height="1" fill="#C0C0C0"/>
<rect x="12" y="643" width="3" height="1" fill="#C0C0C0"/>
<rect x="18" y="643" width="3" height="1" fill="#C0C0C0"/>
<rect x="24" y="643" width="3" height="1" fill="#C0C0C0"/>
<rect x="30" y="643" width="3" height="1" fill="#C0C0C0"/>
<rect x="36" y="643" width="3" height="1" fill="#C0C0C0"/>
<rect x="42" y="643" width="3" height="1" fill="#C0C0C0"/>
<rect x="48" y="643" width="3" height="1" fill="#C0C0C0"/>
<rect x="54" y="643" width="3" height="1" fill="#C0C0C0"/>
<rect x="60" y="643" width="3" height="1" fill="#C0C0C0"/>
<rect x="66" y="643" width="3" height="1" fill="#C0C0C0"/>
<rect x="72" y="643" width="3" height="1" fill="#C0C0C0"/>
<rect x="78" y="643" width="3" height="1" fill="#C0C0C0"/>
<rect x="84" y="643" width="3" height="1" fill="#C0C0C0"/>
<rect x="90" y="643" width="3" height="1" fill="#C0C0C0"/>
<rect x="96" y="643" width="3" height="1" fill="#C0C0C0"/>
<rect x="102" y="643" width="3" height="1" fill="#C0C0C0"/>
<rect x="108" y="643" width="3" height="1" fill="#C0C0C0"/>
<rect x="114" y="643" width="3" height="1" fill="#C0C0C0"/>
<rect x="120" y="643" width="3" height="1" fill="#C0C0C0"/>
<rect x="126" y="643" width="3" height="1" fill="#C0C0C0"/>
<rect x="132" y="643" width="3" height="1" fill="#C0C0C0"/>
<rect x="138" y="643" width="3" height="1" fill="#C0C0C0"/>
<rect x="144" y="643" width="3" height="1" fill="#C0C0C0"/>
<rect x="150" y="643" width="3" height="1" fill="#C0C0C0"/>
<rect x="156" y="643" width="3" height="1" fill="#C0C0C0"/>
<rect x="162" y="643" width="3" height="1" fill="#C0C0C0"/>
<rect x="168" y="643" width="3" height="1" fill="#C0C0C0"/>
<rect x="174" y="643" width="3" height="1" fill="#C0C0C0"/>
<rect x="180" y="643" width="3" height="1" fill="#C0C0C0"/>
<rect x="186" y="643" width="3" height="1" fill="#C0C0C0"/>
<rect x="192" y="643" width="3" height="1" fill="#C0C0C0"/>
<rect x="198" y="643" width="3" height="1" fill="#C0C0C0"/>
<rect x="204" y="643" width="3" height="1" fill="#C0C0C0"/>
<rect x="210" y="643" width="3" height="1" fill="#C0C0C0"/>
<rect x="216" y="643" width="3" height="1" fill="#C0C0C0"/>
<rect x="222" y="643" width="3" height="1" fill="#C0C0C0"/>
<rect x="228" y="643" width="3" height="1" fill="#C0C0C0"/>
<rect x="234" y="643" width="3" height="1" fill="#C0C0C0"/>
<rect x="240" y="643" width="3" height="1" fill="#C0C0C0"/>
<rect x="246" y="643" width="3" height="1" fill="#C0C0C0"/>
<rect x="252" y="643" width="3" height="1" fill="#C0C0C0"/>
<rect x="258" y="643" width="3" height="1" fill="#C0C0C0"/>
<rect x="264" y="643" width="3" height="1" fill="#C0C0C0"/>
<rect x="270" y="643" width="3" height="1" fill="#C0C0C0"/>
<rect x="276" y="643" width="3" height="1" fill="#C0C0C0"/>
<rect x="282" y="643" width="3" height="1" fill="#C0C0C0"/>
<rect x="288" y="643" width="3" height="1" fill="#C0C0C0"/>
<rect x="294" y="643" width="3" height="1" fill="#C0C0C0"/>
<rect x="300" y="643" width="3" height="1" fill="#C0C0C0"/>
<rect x="306" y="643" width="3" height="1" fill="#C0C0C0"/>
<rect x="312" y="643" width="3" height="1" fill="#C0C0C0"/>
<rect x="318" y="643" width="3" height="1" fill="#C0C0C0"/>
<rect x="324" y="643" width="3" height="1" fill="#C0C0C0"/>
<rect x="330" y="643" width="3" height="1" fill="#C0C0C0"/>
<rect x="336" y="643" width="3" height="1" fill="#C0C0C0"/>
<rect x="342" y="643" width="3" height="1" fill="#C0C0C0"/>
<rect x="348" y="643" width="3" height="1" fill="#C0C0C0"/>
<rect x="354" y="643" width="3" height="1" fill="#C0C0C0"/>
<rect x="360" y="643" width="3" height="1" fill="#C0C0C0"/>
<rect x="366" y="643" width="3" height="1" fill="#C0C0C0"/>
<rect x="372" y="643" width="3" height="1" fill="#C0C0C0"/>
<rect x="378" y="643" width="3" height="1" fill="#C0C0C0"/>
<rect x="384" y="643" width="3" height="1" fill="#C0C0C0"/>
<rect x="390" y="643" width="3" height="1" fill="#C0C0C0"/>
<rect x="396" y="643" width="3" height="1" fill="#C0C0C0"/>
<rect x="402" y="643" width="3" height="1" fill="#C0C0C0"/>
<rect x="408" y="643" width="3" height="1" fill="#C0C0C0"/>
<rect x="414" y="643" width="3" height="1" fill="#C0C0C0"/>
<rect x="420" y="643" width="3" height="1" fill="#C0C0C0"/>
<rect x="426" y="643" width="3" height="1" fill="#C0C0C0"/>
<rect x="432" y="643" width="3" height="1" fill="#C0C0C0"/>
<rect x="438" y="643" width="3" height="1" fill="#C0C0C0"/>
<rect x="444" y="643" width="3" height="1" fill="#C0C0C0"/>
<rect x="450" y="643" width="3" height="1" fill="#C0C0C0"/>
<rect x="456" y="643" width="3" height="1" fill="#C0C0C0"/>
<rect x="462" y="643" width="3" height="1" fill="#C0C0C0"/>
<rect x="468" y="643" width="3" height="1" fill="#C0C0C0"/>
<rect x="474" y="643" width="3" height="1" fill="#C0C0C0"/>
<rect x="480" y="643" width="3" height="1" fill="#C0C0C0"/>
<rect x="486" y="643" width="3" height="1" fill="#C0C0C0"/>
<rect x="492" y="643" width="3" height="1" fill="#C0C0C0"/>
<rect x="498" y="643" width="3" height="1" fill="#C0C0C0"/>
<rect x="504" y="643" width="3" height="1" fill="#C0C0C0"/>
<rect x="510" y="643" width="3" height="1" fill="#C0C0C0"/>
<rect x="516" y="643" width="3" height="1" fill="#C0C0C0"/>
<rect x="522" y="643" width="3" height="1" fill="#C0C0C0"/>
<rect x="528" y="643" width="3" height="1" fill="#C0C0C0"/>
<rect x="534" y="643" width="3" height="1" fill="#C0C0C0"/>
<rect x="540" y="643" width="3" height="1" fill="#C0C0C0"/>
<rect x="546" y="643" width="3" height="1" fill="#C0C0C0"/>
<rect x="552" y="643" width="3" height="1" fill="#C0C0C0"/>
<rect x="558" y="643" width="3" height="1" fill="#C0C0C0"/>
<rect x="564" y="643" width="3" height="1" fill="#C0C0C0"/>
<rect x="570" y="643" width="3" height="1" fill="#C0C0C0"/>
<rect x="576" y="643" width="3" height="1" fill="#C0C0C0"/>
<rect x="582" y="643" width="3" height="1" fill="#C0C0C0"/>
<rect x="588" y="643" width="3" height="1" fill="#C0C0C0"/>
<rect x="594" y="643" width="3" height="1" fill="#C0C0C0"/>
<rect x="600" y="643" width="3" height="1" fill="#C0C0C0"/>
<rect x="606" y="643" width="3" height="1" fill="#C0C0C0"/>
<rect x="612" y="643" width="3" height="1" fill="#C0C0C0"/>
<rect x="618" y="643" width="3" height="1" fill="#C0C0C0"/>
<rect x="624" y="643" width="3" height="1" fill="#C0C0C0"/>
<rect x="630" y="643" width="3" height="1" fill="#C0C0C0"/>
<rect x="636" y="643" width="3" height="1" fill="#C0C0C0"/>
<rect x="642" y="643" width="3" height="1" fill="#C0C0C0"/>
<rect x="648" y="643" width="3" height="1" fill="#C0C0C0"/>
<rect x="654" y="643" width="3" height="1" fill="#C0C0C0"/>
<rect x="660" y="643" width="3" height="1" fill="#C0C0C0"/>
<rect x="666" y="643" width="3" height="1" fill="#C0C0C0"/>
<rect x="672" y="643" width="3" height="1" fill="#C0C0C0"/>
<rect x="678" y="643" width="3" height="1" fill="#C0C0C0"/>
<rect x="684" y="643" width="3" height="1" fill="#C0C0C0"/>
<rect x="690" y="643" width="3" height="1" fill="#C0C0C0"/>
<rect x="696" y="643" width="3" height="1" fill="#C0C0C0"/>
<rect x="702" y="643" width="3" height="1" fill="#C0C0C0"/>
<rect x="708" y="643" width="3" height="1" fill="#C0C0C0"/>
<rect x="714" y="643" width="3" height="1" fill="#C0C0C0"/>
<rect x="720" y="643" width="3" height="1" fill="#C0C0C0"/>
<rect x="726" y="643" width="3" height="1" fill="#C0C0C0"/>
<rect x="732" y="643" width="3" height="1" fill="#C0C0C0"/>
<rect x="738" y="643" width="3" height="1" fill="#C0C0C0"/>
<rect x="744" y="643" width="3" height="1" fill="#C0C0C0"/>
<rect x="750" y="643" width="3" height="1" fill="#C0C0C0"/>
<rect x="756" y="643" width="3" height="1" fill="#C0C0C0"/>
<rect x="762" y="643" width="3" height="1" fill="#C0C0C0"/>
<rect x="768" y="643" width="3" height="1" fill="#C0C0C0"/>
<rect x="774" y="643" width="3" height="1" fill="#C0C0C0"/>
<rect x="780" y="643" width="3" height="1" fill="#C0C0C0"/>
<rect x="786" y="643" width="3" height="1" fill="#C0C0C0"/>
<rect x="792" y="643" width="3" height="1" fill="#C0C0C0"/>
<rect x="798" y="643" width="3" height="1" fill="#C0C0C0"/>
<rect x="804" y="643" width="3" height="1" fill="#C0C0C0"/>
<rect x="810" y="643" width="3" height="1" fill="#C0C0C0"/>
<rect x="816" y="643" width="3" height="1" fill="#C0C0C0"/>
<rect x="822" y="643" width="3" height="1" fill="#C0C0C0"/>
<rect x="828" y="643" width="3" height="1" fill="#C0C0C0"/>
<rect x="834" y="643" width="3" height="1" fill="#C0C0C0"/>
<rect x="840" y="643" width="3" height="1" fill="#C0C0C0"/>
<rect x="846" y="643" width="3" height="1" fill="#C0C0C0"/>
<rect x="852" y="643" width="3" height="1" fill="#C0C0C0"/>
<rect x="858" y="643" width="3" height="1" fill="#C0C0C0"/>
<rect x="864" y="643" width="3" height="1" fill="#C0C0C0"/>
<rect x="870" y="643" width="3" height="1" fill="#C0C0C0"/>
<rect x="876" y="643" width="3" height="1" fill="#C0C0C0"/>
<rect x="882" y="643" width="3" height="1" fill="#C0C0C0"/>
<rect x="888" y="643" width="3" height="1" fill="#C0C0C0"/>
<rect x="894" y="643" width="3" height="1" fill="#C0C0C0"/>
<rect x="900" y="643" width="3" height="1" fill="#C0C0C0"/>
<rect x="906" y="643" width="3" height="1" fill="#C0C0C0"/>
<rect x="912" y="643" width="3" height="1" fill="#C0C0C0"/>
<rect x="918" y="643" width="3" height="1" fill="#C0C0C0"/>
<rect x="924" y="643" width="3" height="1" fill="#C0C0C0"/>
<rect x="930" y="643" width="3" height="1" fill="#C0C0C0"/>
<rect x="936" y="643" width="3" height="1" fill="#C0C0C0"/>
<rect x="942" y="643" width="3" height="1" fill="#C0C0C0"/>
<rect x="948" y="643" width="3" height="1" fill="#C0C0C0"/>
<rect x="954" y="643" width="3" height="1" fill="#C0C0C0"/>
<rect x="960" y="643" width="3" height="1" fill="#C0C0C0"/>
<rect x="966" y="643" width="3" height="1" fill="#C0C0C0"/>
<rect x="972" y="643" width="3" height="1" fill="#C0C0C0"/>
<rect x="978" y="643" width="3" height="1" fill="#C0C0C0"/>
<rect x="984" y="643" width="3" height="1" fill="#C0C0C0"/>
<rect x="990" y="643" width="3" height="1" fill="#C0C0C0"/>
<rect x="996" y="643" width="3" height="1" fill="#C0C0C0"/>
<rect x="1002" y="643" width="3" height="1" fill="#C0C0C0"/>
<rect x="1008" y="643" width="3" height="1" fill="#C0C0C0"/>
<rect x="1014" y="643" width="3" height="1" fill="#C0C0C0"/>
<rect x="1020" y="643" width="3" height="1" fill="#C0C0C0"/>
<rect x="1026" y="643" width="3" height="1" fill="#C0C0C0"/>
<rect x="1032" y="643" width="3" height="1" fill="#C0C0C0"/>
<rect x="1038" y="643" width="3" height="1" fill="#C0C0C0"/>
<rect x="1044" y="643" width="3" height="1" fill="#C0C0C0"/>
<rect x="1050" y="643" width="3" height="1" fill="#C0C0C0"/>
<rect x="1056" y="643" width="3" height="1" fill="#C0C0C0"/>
<rect x="1062" y="643" width="3" height="1" fill="#C0C0C0"/>
<rect x="1068" y="643" width="3" height="1" fill="#C0C0C0"/>
<rect x="1074" y="643" width="3" height="1" fill="#C0C0C0"/>
<rect x="1080" y="643" width="3" height="1" fill="#C0C0C0"/>
<rect x="1086" y="643" width="3" height="1" fill="#C0C0C0"/>
<rect x="1092" y="643" width="3" height="1" fill="#C0C0C0"/>
<rect x="1098" y="643" width="3" height="1" fill="#C0C0C0"/>
<rect x="1104" y="643" width="3" height="1" fill="#C0C0C0"/>
<rect x="1110" y="643" width="3" height="1" fill="#C0C0C0"/>
<rect x="1116" y="643" width="3" height="1" fill="#C0C0C0"/>
<rect x="1122" y="643" width="3" height="1" fill="#C0C0C0"/>
<rect x="1128" y="643" width="3" height="1" fill="#C0C0C0"/>
<rect x="1134" y="643" width="3" height="1" fill="#C0C0C0"/>
<rect x="1140" y="643" width="3" height="1" fill="#C0C0C0"/>
<rect x="1146" y="643" width="3" height="1" fill="#C0C0C0"/>
<rect x="1152" y="643" width="3" height="1" fill="#C0C0C0"/>
<rect x="1158" y="643" width="3" height="1" fill="#C0C0C0"/>
<rect x="1164" y="643" width="3" height="1" fill="#C0C0C0"/>
<rect x="1170" y="643" width="3" height="1" fill="#C0C0C0"/>
<rect x="1176" y="643" width="3" height="1" fill="#C0C0C0"/>
<rect x="1182" y="643" width="3" height="1" fill="#C0C0C0"/>
<rect x="1188" y="643" width="3" height="1" fill="#C0C0C0"/>
</g>
<polyline clip-path="url(#c3)" points="5.5,608.4 13.5,608.4 21.5,615.3 29.5,615.3 37.5,616.4 45.5,615.3 53.5,614.5 61.5,611.3 69.5,617.1 77.5,621.4 85.5,620.3 93.5,619.3 101.5,618.1 109.5,614.6 117.5,614.6 125.5,614.6 133.5,625.5 141.5,623.3 149.5,622.5 157.5,624.3 165.5,623.3 173.5,626.5 181.5,626.5 189.5,620.3 197.5,620.3 205.5,618.1 213.5,612 221.5,608.4 229.5,606.2 237.5,621.4 245.5,633.4 253.5,628.7 261.5,627.3 269.5,627.3 277.5,630.5 285.5,633.5 293.5,632.3 301.5,627.3 309.5,628.7 317.5,630.5 325.5,628.7 333.5,627.3 341.5,628.4 349.5,628.4 357.5,628.4 365.5,627.3 373.5,623.3 381.5,622.5 389.5,618.5 397.5,618.5 405.5,620.3 413.5,618.5 421.5,624.3 429.5,625.5 437.5,625.5 445.5,625.5 453.5,625.5 461.5,624.3 469.5,623.3 477.5,626.5 485.5,623.3 493.5,623.3 501.5,621.4 509.5,623.3 517.5,619.3 525.5,616.4 533.5,612.7 541.5,609.5 549.5,609.5 557.5,608.4 565.5,609.8 573.5,615.3 581.5,612.3 589.5,612.3 597.5,618.1 605.5,612.3 613.5,615.3 621.5,609.5 629.5,612.3 637.5,612.3 645.5,610.2 653.5,614.2 661.5,623.6 669.5,628 677.5,629.4 685.5,629.4 693.5,632.3 701.5,632.3 709.5,625.4 717.5,628.4 725.5,627.3 733.5,628.4 741.5,629.4 749.5,629.4 757.5,632.3 765.5,631.3 773.5,630.2 781.5,633.4 789.5,633.4 797.5,633.4 805.5,636.4 813.5,638.2 821.5,639.3 829.5,639.3 837.5,641.4 845.5,644.3 853.5,645.4 861.5,645.4 869.5,647.3 877.5,646.4 885.5,646.4 893.5,646.4 901.5,641.4 909.5,644.4 917.5,636.3 925.5,636.3 933.5,632.3 941.5,632.3 949.5,629.4 957.5,627.3 965.5,631.3 973.5,629.4 981.5,632.3 989.5,632.3 997.5,630.5 1005.5,633.4 1013.5,636.4 1021.5,637.4 1029.5,633.4 1037.5,634.5 1045.5,634.5 1053.5,629.4 1061.5,629.4 1069.5,629.4 1077.5,628.4 1085.5,630.5 1093.5,633.4 1101.5,637.4 1109.5,635.3 1117.5,636.4 1125.5,634.5 1133.5,635.3 1141.5,629.4 1149.5,629.4 1157.5,621.4 1165.5,622.5 1173.5,622.5" fill="none" stroke="#1E90FF" stroke-width="1" shape-rendering="crispEdges" />
<text letter-spacing="0.18" transform="translate(8.5 604.3) scale(0.907 1)">RSI(14) 59.4359</text>
<text transform="translate(1196 602) scale(0.907 1)">100</text><text transform="translate(1196 618) scale(0.907 1)">70</text><text transform="translate(1196 647) scale(0.907 1)">30</text><text transform="translate(1196 662) scale(0.907 1)">0</text>
<g shape-rendering="crispEdges">
<rect x="5" y="666" width="1" height="3" fill="#000"/>
<rect x="69" y="666" width="1" height="3" fill="#000"/>
<rect x="133" y="666" width="1" height="3" fill="#000"/>
<rect x="197" y="666" width="1" height="3" fill="#000"/>
<rect x="261" y="666" width="1" height="3" fill="#000"/>
<rect x="325" y="666" width="1" height="3" fill="#000"/>
<rect x="389" y="666" width="1" height="3" fill="#000"/>
<rect x="453" y="666" width="1" height="3" fill="#000"/>
<rect x="517" y="666" width="1" height="3" fill="#000"/>
<rect x="581" y="666" width="1" height="3" fill="#000"/>
<rect x="645" y="666" width="1" height="3" fill="#000"/>
<rect x="709" y="666" width="1" height="3" fill="#000"/>
<rect x="773" y="666" width="1" height="3" fill="#000"/>
<rect x="837" y="666" width="1" height="3" fill="#000"/>
<rect x="901" y="666" width="1" height="3" fill="#000"/>
<rect x="965" y="666" width="1" height="3" fill="#000"/>
<rect x="1029" y="666" width="1" height="3" fill="#000"/>
<rect x="1093" y="666" width="1" height="3" fill="#000"/>
<rect x="1157" y="666" width="1" height="3" fill="#000"/>
</g>
<text letter-spacing="0.15" transform="translate(4.0 678) scale(0.907 1)">17 Feb 2022</text>
<text letter-spacing="0.15" transform="translate(67.2 678) scale(0.907 1)">21 Feb 00:00</text>
<text letter-spacing="0.15" transform="translate(131.2 678) scale(0.907 1)">22 Feb 08:00</text>
<text letter-spacing="0.15" transform="translate(195.2 678) scale(0.907 1)">23 Feb 16:00</text>
<text letter-spacing="0.15" transform="translate(259.2 678) scale(0.907 1)">25 Feb 00:00</text>
<text letter-spacing="0.15" transform="translate(323.2 678) scale(0.907 1)">28 Feb 08:00</text>
<text letter-spacing="0.15" transform="translate(388.0 678) scale(0.907 1)">1 Mar 16:00</text>
<text letter-spacing="0.15" transform="translate(451.2 678) scale(0.907 1)">3 Mar 00:00</text>
<text letter-spacing="0.15" transform="translate(515.2 678) scale(0.907 1)">4 Mar 08:00</text>
<text letter-spacing="0.15" transform="translate(579.2 678) scale(0.907 1)">7 Mar 16:00</text>
<text letter-spacing="0.15" transform="translate(643.2 678) scale(0.907 1)">9 Mar 00:00</text>
<text letter-spacing="0.15" transform="translate(708.0 678) scale(0.907 1)">10 Mar 08:00</text>
<text letter-spacing="0.15" transform="translate(772.0 678) scale(0.907 1)">11 Mar 16:00</text>
<text letter-spacing="0.15" transform="translate(836.0 678) scale(0.907 1)">15 Mar 00:00</text>
<text letter-spacing="0.15" transform="translate(900.0 678) scale(0.907 1)">16 Mar 08:00</text>
<text letter-spacing="0.15" transform="translate(964.0 678) scale(0.907 1)">17 Mar 16:00</text>
<text letter-spacing="0.15" transform="translate(1027.2 678) scale(0.907 1)">21 Mar 00:00</text>
<text letter-spacing="0.15" transform="translate(1091.2 678) scale(0.907 1)">22 Mar 08:00</text>
<text letter-spacing="0.15" transform="translate(1155.2 678) scale(0.907 1)">23 Mar 16:00</text>
</svg></body></html>
